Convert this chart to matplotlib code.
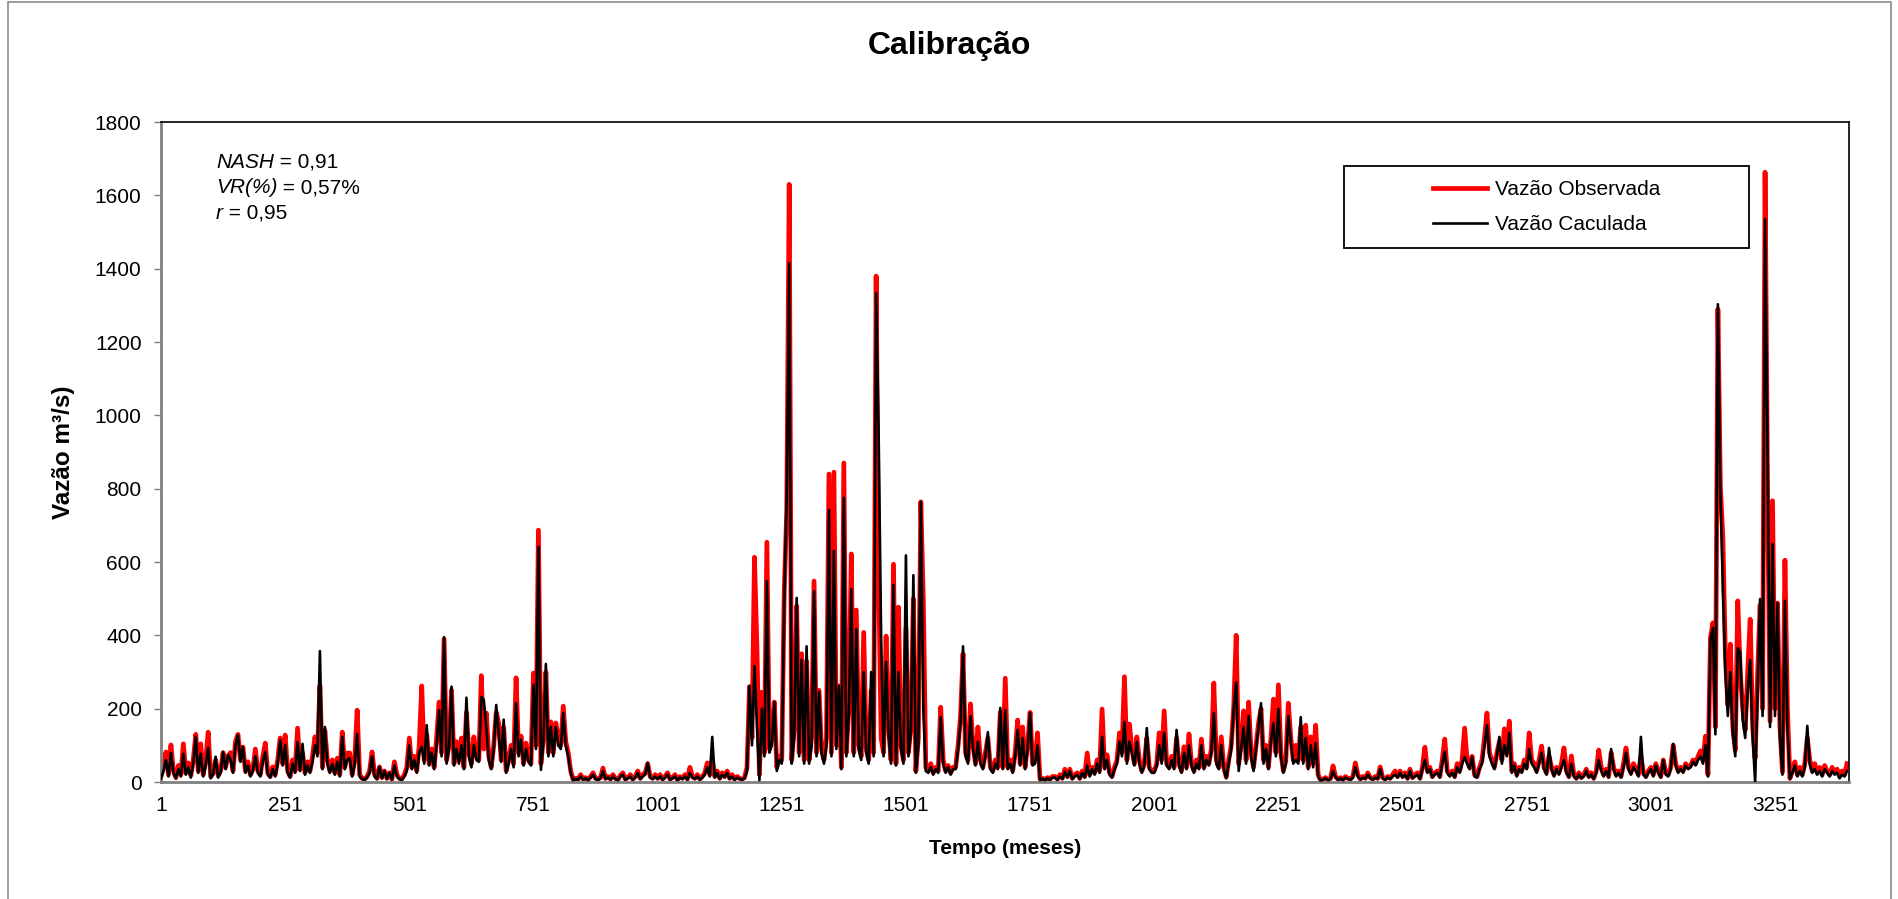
import matplotlib
matplotlib.use('Agg')
import matplotlib.pyplot as plt
from matplotlib.patches import Rectangle

plt.rcParams['font.family'] = ['Liberation Sans', 'DejaVu Sans']

# ---------------- data (monthly flow, sampled every 5 months) ----------------
vazao_observada = [
    15, 40, 82, 20, 101, 30, 12, 45, 20, 104, 25, 52, 18, 60, 130, 30, 104, 20, 60, 136,          # 1-96
    15, 25, 60, 18, 30, 80, 40, 70, 80, 30, 110, 130, 60, 95, 30, 55, 20, 35, 90, 30,            # 101-196
    20, 69, 106, 25, 15, 41, 20, 60, 120, 50, 128, 30, 15, 60, 30, 147, 35, 80, 25, 55,          # 201-296
    30, 70, 123, 80, 262, 40, 140, 60, 30, 60, 25, 65, 20, 136, 40, 79, 79, 20, 60, 196,         # 301-396
    20, 10, 8, 15, 30, 82, 20, 10, 41, 12, 30, 10, 25, 8, 55, 20, 10, 8, 20, 40,                 # 401-496
    120, 40, 70, 30, 100, 262, 60, 130, 50, 90, 40, 120, 218, 80, 390, 60, 100, 251, 50, 110,    # 501-596
    60, 120, 40, 190, 80, 50, 123, 70, 60, 290, 90, 188, 70, 40, 100, 190, 161, 60, 150, 30,     # 601-696
    60, 100, 50, 284, 80, 125, 50, 106, 60, 50, 297, 100, 687, 50, 120, 300, 80, 164, 80, 161,   # 701-796
    120, 100, 207, 110, 80, 30, 6, 10, 8, 20, 8, 12, 6, 15, 25, 10, 8, 12, 38, 10,               # 801-896
    15, 8, 20, 10, 6, 18, 25, 8, 12, 20, 8, 15, 30, 10, 20, 25, 50, 15, 10, 20,                  # 901-996
    10, 20, 8, 15, 25, 8, 12, 20, 6, 15, 10, 20, 8, 40, 15, 10, 20, 8, 15, 25,                   # 1001-1096
    52, 20, 60, 15, 30, 10, 25, 15, 30, 10, 20, 8, 15, 10, 8, 12, 40, 260, 120, 613,             # 1101-1196
    365, 20, 245, 80, 654, 90, 120, 218, 40, 70, 60, 520, 742, 1630, 60, 150, 480, 80, 350, 60,  # 1201-1296
    330, 60, 120, 548, 80, 250, 90, 60, 120, 840, 80, 845, 100, 262, 40, 870, 80, 200, 622, 80,  # 1301-1396
    469, 100, 70, 408, 90, 60, 250, 80, 1380, 576, 120, 80, 398, 150, 60, 594, 50, 477, 100, 60, # 1401-1496
    420, 80, 150, 500, 30, 120, 764, 496, 40, 30, 50, 25, 40, 30, 204, 60, 30, 45, 25, 40,       # 1501-1596
    40, 100, 180, 350, 80, 60, 213, 100, 50, 150, 60, 40, 80, 120, 40, 30, 60, 40, 190, 40,      # 1601-1696
    283, 40, 60, 30, 80, 169, 50, 150, 40, 100, 190, 50, 60, 134, 8, 10, 6, 12, 8, 15,           # 1701-1796
    15, 8, 20, 10, 35, 15, 35, 10, 20, 25, 10, 30, 15, 79, 20, 40, 25, 60, 30, 199,              # 1801-1896
    40, 74, 25, 15, 40, 60, 134, 80, 287, 60, 158, 90, 50, 123, 60, 30, 50, 120, 40, 30,         # 1901-1996
    30, 50, 134, 60, 194, 50, 40, 70, 40, 120, 50, 30, 96, 40, 131, 50, 30, 60, 40, 117,         # 2001-2096
    40, 70, 50, 90, 270, 60, 40, 123, 40, 14, 60, 100, 202, 400, 50, 100, 194, 60, 218, 80,      # 2101-2196
    40, 100, 160, 200, 60, 100, 40, 120, 226, 80, 265, 80, 30, 60, 215, 120, 60, 100, 60, 150,   # 2201-2296
    60, 155, 40, 123, 50, 155, 20, 5, 8, 12, 6, 10, 44, 15, 8, 12, 6, 15, 10, 8,                 # 2301-2396
    15, 52, 20, 8, 15, 10, 25, 12, 8, 15, 10, 41, 12, 8, 15, 10, 20, 30, 15, 30,                 # 2401-2496
    15, 25, 10, 35, 12, 20, 25, 10, 40, 95, 30, 40, 15, 25, 30, 15, 60, 117, 30, 20,             # 2501-2596
    30, 15, 50, 30, 60, 147, 60, 40, 70, 20, 15, 40, 60, 120, 188, 80, 60, 40, 80, 110,          # 2601-2696
    60, 145, 80, 166, 30, 50, 20, 40, 30, 60, 40, 134, 60, 50, 30, 60, 98, 40, 25, 70,           # 2701-2796
    40, 20, 40, 25, 50, 93, 30, 15, 71, 20, 10, 25, 12, 20, 35, 15, 25, 10, 30, 87,              # 2801-2896
    40, 20, 35, 15, 80, 40, 20, 30, 15, 50, 93, 40, 25, 50, 35, 20, 70, 25, 15, 30,              # 2901-2996
    40, 20, 50, 30, 15, 60, 25, 20, 40, 100, 50, 30, 40, 30, 50, 40, 45, 60, 50, 70,             # 3001-3096
    85, 60, 125, 20, 393, 434, 150, 1290, 805, 668, 350, 210, 376, 150, 87, 494, 300, 200, 142, 300,  # 3101-3196
    444, 150, 65, 300, 483, 200, 1663, 800, 166, 767, 200, 488, 150, 27, 605, 200, 10, 30, 55, 20,    # 3201-3296
    40, 20, 50, 120, 60, 30, 50, 25, 40, 20, 45, 30, 20, 40, 25, 35, 15, 30, 20, 50,             # 3301-3396
]

vazao_calculada = [
    10, 30, 60, 15, 79, 25, 10, 35, 15, 77, 20, 40, 12, 50, 123, 25, 77, 15, 45, 93,
    10, 20, 69, 12, 25, 82, 35, 74, 60, 25, 100, 128, 55, 96, 25, 45, 15, 30, 70, 25,
    15, 55, 82, 20, 12, 35, 15, 50, 114, 45, 101, 25, 12, 50, 25, 109, 30, 104, 20, 45,
    25, 55, 100, 70, 357, 35, 150, 50, 25, 50, 20, 55, 15, 123, 35, 60, 65, 15, 50, 131,
    15, 8, 6, 12, 25, 70, 15, 8, 41, 10, 30, 8, 25, 6, 45, 15, 8, 6, 15, 30,
    100, 35, 60, 25, 80, 96, 50, 155, 45, 80, 35, 100, 196, 70, 395, 50, 90, 260, 45, 90,
    50, 100, 35, 230, 70, 40, 100, 60, 55, 232, 224, 150, 60, 35, 90, 210, 130, 55, 170, 25,
    50, 90, 40, 215, 70, 115, 45, 90, 55, 45, 265, 90, 641, 33, 110, 322, 70, 150, 70, 150,
    100, 90, 188, 100, 70, 25, 5, 8, 6, 15, 6, 10, 5, 12, 20, 8, 6, 10, 30, 8,
    12, 6, 15, 8, 5, 15, 20, 6, 10, 15, 6, 12, 25, 8, 15, 20, 52, 12, 8, 15,
    8, 15, 6, 12, 20, 6, 10, 15, 5, 12, 8, 15, 6, 25, 12, 8, 15, 6, 12, 20,
    40, 15, 123, 12, 25, 8, 20, 12, 25, 8, 15, 6, 12, 8, 6, 10, 30, 262, 100, 316,
    150, 5, 200, 70, 548, 80, 100, 218, 30, 60, 50, 500, 785, 1415, 50, 120, 502, 70, 333, 50,
    370, 50, 100, 520, 70, 245, 80, 50, 100, 742, 70, 630, 90, 262, 35, 775, 70, 180, 526, 70,
    417, 90, 60, 300, 80, 50, 300, 70, 1334, 952, 400, 70, 328, 130, 50, 537, 45, 300, 90, 50,
    618, 70, 130, 564, 25, 100, 764, 200, 30, 25, 40, 20, 35, 25, 177, 50, 25, 40, 20, 35,
    35, 90, 160, 370, 70, 50, 180, 90, 45, 110, 50, 35, 70, 136, 35, 25, 50, 35, 202, 35,
    196, 35, 50, 25, 70, 142, 45, 120, 35, 90, 188, 45, 50, 100, 5, 8, 5, 10, 6, 12,
    12, 6, 15, 8, 28, 12, 30, 8, 15, 20, 8, 25, 12, 45, 15, 35, 20, 50, 25, 123,
    35, 60, 20, 12, 35, 50, 110, 70, 164, 50, 110, 80, 45, 110, 50, 25, 45, 147, 35, 25,
    25, 45, 100, 50, 134, 45, 35, 60, 35, 142, 45, 25, 80, 35, 100, 45, 25, 50, 35, 100,
    35, 60, 45, 80, 188, 50, 35, 100, 35, 10, 50, 90, 199, 272, 30, 90, 150, 50, 180, 70,
    30, 90, 150, 215, 50, 90, 35, 110, 160, 70, 199, 70, 25, 50, 180, 110, 50, 60, 50, 177,
    50, 120, 35, 100, 40, 106, 15, 4, 6, 10, 5, 8, 30, 12, 6, 10, 5, 12, 8, 6,
    12, 40, 15, 6, 12, 8, 20, 10, 6, 12, 8, 35, 10, 6, 12, 8, 15, 20, 12, 25,
    12, 20, 8, 30, 10, 15, 20, 8, 35, 60, 25, 35, 12, 20, 25, 12, 50, 82, 25, 15,
    25, 12, 40, 25, 50, 68, 50, 35, 68, 15, 12, 35, 50, 100, 155, 70, 50, 35, 70, 123,
    50, 100, 70, 134, 25, 45, 15, 35, 25, 50, 35, 90, 50, 40, 25, 50, 80, 35, 20, 93,
    35, 15, 35, 20, 40, 60, 25, 12, 50, 15, 8, 20, 10, 15, 30, 12, 20, 8, 25, 60,
    30, 15, 30, 12, 90, 35, 15, 25, 12, 40, 80, 35, 20, 40, 30, 15, 123, 20, 12, 25,
    35, 15, 45, 25, 12, 60, 20, 15, 35, 104, 45, 25, 35, 25, 45, 35, 40, 55, 45, 60,
    70, 50, 100, 15, 387, 420, 130, 1303, 788, 532, 300, 180, 300, 130, 70, 365, 354, 170, 120, 250,
    333, 120, 0, 250, 499, 180, 1535, 905, 150, 649, 180, 488, 120, 20, 494, 150, 8, 25, 45, 15,
    30, 15, 40, 153, 50, 25, 35, 20, 30, 15, 35, 25, 15, 30, 20, 25, 10, 20, 15, 30,
]

meses = list(range(1, 5 * len(vazao_observada) + 1, 5))

x_ticks = [1, 251, 501, 751, 1001, 1251, 1501, 1751, 2001, 2251, 2501, 2751, 3001, 3251]
x_tick_labels = [str(v) for v in x_ticks]
y_ticks = [0, 200, 400, 600, 800, 1000, 1200, 1400, 1600, 1800]

titulo = 'Calibração'
rotulo_x = 'Tempo (meses)'
rotulo_y = 'Vazão m³/s)'
series_nomes = ['Vazão Observada', 'Vazão Caculada']
estat_nomes = ['NASH', 'VR(%)', 'r']
estat_valores = [' = 0,91', ' = 0,57%', ' = 0,95']

# ---------------- figure ----------------
W, H = 1899, 899
fig = plt.figure(figsize=(W / 100, H / 100), dpi=100)
fig.patch.set_facecolor('white')
ax = fig.add_axes([161 / W, 1 - 782 / H, (1849 - 161) / W, (782 - 122) / H])

ax.plot(meses, vazao_observada, color='#FF0000', lw=3.4, solid_joinstyle='round',
        label=series_nomes[0], zorder=2)
ax.plot(meses[:len(vazao_calculada)], vazao_calculada, color='black', lw=1.9,
        solid_joinstyle='round', label=series_nomes[1], zorder=3)

ax.set_xlim(1, 3400)
ax.set_ylim(0, 1800)
ax.set_yticks(y_ticks)
ax.set_yticklabels([str(v) for v in y_ticks])
ax.set_xticks(x_ticks)
ax.set_xticklabels(x_tick_labels)
ax.tick_params(axis='both', labelsize=15, labelcolor='black')
ax.tick_params(axis='x', length=0, pad=10)
ax.tick_params(axis='y', length=5, width=1, color='#808080', pad=9)

for s in ['top', 'right']:
    ax.spines[s].set_color('black')
    ax.spines[s].set_linewidth(1.2)
for s in ['left', 'bottom']:
    ax.spines[s].set_color('#808080')
    ax.spines[s].set_linewidth(2.0)

ax.set_xlabel(rotulo_x, fontsize=15, fontweight='bold')
ax.set_ylabel(rotulo_y, fontsize=17.5, fontweight='bold')
ax.xaxis.set_label_coords((1005 - 161) / 1688, (782 - 839) / 660)
ax.yaxis.set_label_coords((75 - 161) / 1688, 0.5)

fig.text(949 / W, 1 - 46 / H, titulo, ha='center', va='center', fontsize=23, fontweight='bold')

# statistics block (italic name + regular value)
fig.canvas.draw()
renderer = fig.canvas.get_renderer()
for k, (nome, valor) in enumerate(zip(estat_nomes, estat_valores)):
    y = 1 - (162 + 25.5 * k) / H
    t1 = fig.text(216 / W, y, nome, ha='left', va='center', fontsize=15, fontstyle='italic')
    bb = t1.get_window_extent(renderer=renderer)
    fig.text(bb.x1 / W, y, valor, ha='left', va='center', fontsize=15)

# legend
leg = ax.legend(loc='center', bbox_to_anchor=((1344 + 1749) / 2 / W, 1 - (166 + 248) / 2 / H),
                bbox_transform=fig.transFigure, frameon=False, fontsize=15,
                handlelength=2.6, handletextpad=0.35, labelspacing=0.75)
fig.add_artist(Rectangle((1344 / W, 1 - 248 / H), 405 / W, 82 / H, transform=fig.transFigure,
                         fill=False, ec='black', lw=1.3))

# chart area border
fig.add_artist(Rectangle((8 / W, -0.01), (1891 - 8) / W, 1 - 2 / H + 0.01, transform=fig.transFigure,
                         fill=False, ec='#8c8c8c', lw=1.2))

fig.savefig('out.png', dpi=100, facecolor='white')
